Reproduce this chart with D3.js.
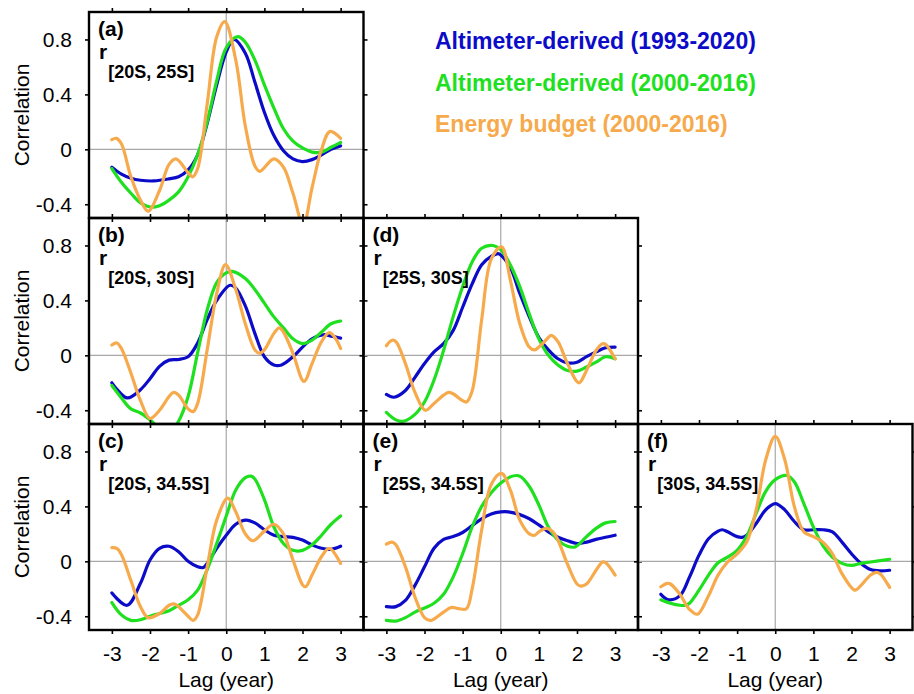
<!DOCTYPE html>
<html>
<head>
<meta charset="utf-8">
<script src="https://cdn.jsdelivr.net/npm/d3@7"></script>
<style>
  body { margin: 0; background: #fff; }
  svg { font-family: "Liberation Sans", Arial, Helvetica, sans-serif; }
</style>
</head>
<body>
<div id="chart"></div>
<script>
// series labels and colours
var seriesNames = ["Altimeter-derived (1993-2020)", "Altimeter-derived (2000-2016)", "Energy budget (2000-2016)"];
var seriesColors = ["#0c0cc8", "#1fe01f", "#f6aa4c"];

var xTicks = [-3, -2, -1, 0, 1, 2, 3];
var yTicks = [-0.4, 0, 0.4, 0.8];

// panels: id, row, col, latitude band
var panelIds = ["a", "b", "c", "d", "e", "f"];
var panelRows = [0, 1, 2, 1, 2, 2];
var panelCols = [0, 0, 0, 1, 1, 2];
var panelBands = ["[20S, 25S]", "[20S, 30S]", "[20S, 34.5S]", "[25S, 30S]", "[25S, 34.5S]", "[30S, 34.5S]"];

// [lag (year), correlation]
var blueA = [[-3,-0.13],[-2.75,-0.18],[-2.5,-0.21],[-2.25,-0.225],[-1.9,-0.23],[-1.5,-0.215],[-1.25,-0.2],[-1,-0.15],[-0.75,-0.04],[-0.5,0.19],[-0.25,0.47],[0,0.71],[0.2,0.8],[0.5,0.7],[0.75,0.49],[1,0.27],[1.25,0.1],[1.5,-0.01],[1.75,-0.07],[2,-0.09],[2.25,-0.075],[2.5,-0.04],[2.75,0],[3,0.025]];
var greenA = [[-3,-0.14],[-2.75,-0.24],[-2.5,-0.32],[-2.25,-0.39],[-2,-0.42],[-1.75,-0.41],[-1.5,-0.37],[-1.25,-0.31],[-1,-0.2],[-0.75,-0.04],[-0.5,0.2],[-0.25,0.5],[0,0.74],[0.3,0.82],[0.5,0.78],[0.75,0.65],[1,0.47],[1.25,0.3],[1.5,0.15],[1.75,0.06],[2,0.01],[2.25,-0.02],[2.5,-0.02],[2.75,0.015],[3,0.05]];
var orangeA = [[-3,0.07],[-2.88,0.08],[-2.75,0.04],[-2.5,-0.2],[-2.25,-0.37],[-2.05,-0.45],[-1.75,-0.3],[-1.5,-0.11],[-1.32,-0.07],[-1,-0.17],[-0.88,-0.2],[-0.75,-0.14],[-0.5,0.33],[-0.25,0.82],[-0.04,0.93],[0.25,0.65],[0.5,0.17],[0.75,-0.12],[0.88,-0.16],[1.25,-0.07],[1.5,-0.13],[1.75,-0.32],[2.02,-0.55],[2.25,-0.28],[2.5,0],[2.72,0.13],[3,0.08]];

var blueB = [[-3,-0.2],[-2.6,-0.31],[-2.25,-0.25],[-2,-0.17],[-1.75,-0.08],[-1.5,-0.035],[-1.25,-0.03],[-1,-0.01],[-0.75,0.09],[-0.5,0.26],[-0.25,0.4],[0.1,0.51],[0.25,0.49],[0.5,0.36],[0.75,0.16],[1,-0.01],[1.25,-0.07],[1.45,-0.07],[1.75,-0.01],[2,0.06],[2.25,0.12],[2.55,0.15],[2.75,0.14],[3,0.125]];
var greenB = [[-3,-0.22],[-2.75,-0.31],[-2.5,-0.39],[-2.25,-0.42],[-2,-0.47],[-1.75,-0.53],[-1.5,-0.57],[-1.25,-0.48],[-1,-0.3],[-0.75,0.02],[-0.5,0.33],[-0.25,0.53],[0,0.6],[0.18,0.61],[0.5,0.56],[0.75,0.48],[1,0.38],[1.25,0.28],[1.5,0.2],[1.75,0.12],[2,0.085],[2.25,0.11],[2.5,0.17],[2.75,0.23],[3,0.25]];
var orangeB = [[-3,0.075],[-2.87,0.09],[-2.75,0.05],[-2.5,-0.13],[-2.25,-0.33],[-2,-0.46],[-1.75,-0.4],[-1.5,-0.3],[-1.38,-0.27],[-1.25,-0.29],[-1,-0.39],[-0.87,-0.41],[-0.75,-0.35],[-0.5,0.04],[-0.25,0.45],[-0.02,0.66],[0.25,0.48],[0.5,0.23],[0.75,0.04],[0.87,0.015],[1,0.04],[1.25,0.16],[1.39,0.2],[1.5,0.17],[1.75,0.015],[2.04,-0.19],[2.25,-0.06],[2.5,0.1],[2.7,0.165],[2.85,0.13],[3,0.05]];

var blueC = [[-3,-0.23],[-2.6,-0.32],[-2.25,-0.16],[-2,0.01],[-1.75,0.095],[-1.5,0.11],[-1.25,0.07],[-1,0],[-0.75,-0.04],[-0.6,-0.045],[-0.5,-0.015],[-0.25,0.095],[0,0.19],[0.25,0.27],[0.52,0.3],[0.75,0.28],[1,0.23],[1.25,0.19],[1.5,0.18],[1.75,0.175],[2,0.155],[2.25,0.12],[2.5,0.095],[2.75,0.088],[3,0.11]];
var greenC = [[-3,-0.3],[-2.75,-0.39],[-2.5,-0.43],[-2.25,-0.425],[-2,-0.4],[-1.75,-0.38],[-1.5,-0.36],[-1.25,-0.32],[-1,-0.28],[-0.75,-0.21],[-0.5,-0.06],[-0.25,0.13],[0,0.33],[0.25,0.52],[0.5,0.61],[0.65,0.62],[0.75,0.6],[1,0.45],[1.25,0.25],[1.5,0.13],[1.75,0.08],[2,0.08],[2.25,0.12],[2.5,0.19],[2.75,0.27],[3,0.33]];
var orangeC = [[-3,0.1],[-2.87,0.095],[-2.75,0.05],[-2.5,-0.14],[-2.25,-0.33],[-2.05,-0.41],[-1.75,-0.38],[-1.5,-0.32],[-1.37,-0.31],[-1.25,-0.33],[-1,-0.4],[-0.87,-0.43],[-0.75,-0.39],[-0.5,-0.04],[-0.25,0.3],[0.04,0.46],[0.25,0.36],[0.5,0.2],[0.7,0.15],[1,0.22],[1.25,0.27],[1.5,0.2],[1.75,0.01],[2,-0.17],[2.08,-0.185],[2.25,-0.1],[2.5,0.035],[2.7,0.095],[3,-0.015]];

var blueD = [[-3,-0.285],[-2.8,-0.305],[-2.5,-0.256],[-2.25,-0.16],[-2,-0.06],[-1.75,0.025],[-1.5,0.085],[-1.25,0.18],[-1,0.35],[-0.75,0.52],[-0.5,0.66],[-0.25,0.72],[-0.07,0.74],[0,0.73],[0.25,0.64],[0.5,0.45],[0.75,0.28],[1,0.13],[1.25,0.04],[1.5,-0.025],[1.75,-0.055],[2,-0.05],[2.25,-0.01],[2.5,0.025],[2.75,0.055],[3,0.06]];
var greenD = [[-3,-0.415],[-2.75,-0.47],[-2.55,-0.48],[-2.25,-0.43],[-2,-0.34],[-1.75,-0.18],[-1.5,0.035],[-1.25,0.28],[-1,0.5],[-0.75,0.68],[-0.5,0.78],[-0.2,0.8],[0,0.77],[0.25,0.66],[0.5,0.5],[0.75,0.3],[1,0.12],[1.25,0],[1.5,-0.07],[1.75,-0.11],[2,-0.115],[2.25,-0.085],[2.5,-0.05],[2.75,-0.01],[3,-0.025]];
var orangeD = [[-3,0.07],[-2.85,0.11],[-2.75,0.1],[-2.5,-0.06],[-2.25,-0.27],[-1.98,-0.4],[-1.75,-0.35],[-1.5,-0.29],[-1.37,-0.27],[-1.25,-0.28],[-1,-0.33],[-0.9,-0.34],[-0.75,-0.26],[-0.5,0.26],[-0.25,0.7],[0.02,0.79],[0.25,0.55],[0.5,0.23],[0.75,0.06],[0.89,0.04],[1,0.06],[1.25,0.13],[1.32,0.145],[1.5,0.1],[1.75,-0.06],[2.05,-0.2],[2.25,-0.11],[2.5,0.035],[2.67,0.085],[2.75,0.08],[3,-0.025]];

var blueE = [[-3,-0.33],[-2.75,-0.33],[-2.5,-0.285],[-2.25,-0.175],[-2,-0.04],[-1.75,0.095],[-1.5,0.16],[-1.25,0.18],[-1,0.21],[-0.75,0.26],[-0.5,0.31],[-0.25,0.345],[0,0.36],[0.2,0.36],[0.5,0.34],[0.75,0.31],[1,0.265],[1.25,0.215],[1.5,0.175],[1.75,0.15],[2,0.13],[2.25,0.14],[2.5,0.16],[2.75,0.175],[3,0.19]];
var greenE = [[-3,-0.43],[-2.75,-0.435],[-2.5,-0.41],[-2.25,-0.37],[-2,-0.34],[-1.75,-0.305],[-1.5,-0.24],[-1.25,-0.115],[-1,0.055],[-0.75,0.25],[-0.5,0.4],[-0.25,0.5],[0,0.57],[0.25,0.615],[0.41,0.625],[0.5,0.62],[0.75,0.545],[1,0.41],[1.25,0.25],[1.5,0.155],[1.75,0.11],[1.95,0.105],[2.25,0.18],[2.5,0.24],[2.75,0.28],[3,0.29]];
var orangeE = [[-3,0.125],[-2.85,0.14],[-2.75,0.12],[-2.5,-0.04],[-2.25,-0.26],[-2,-0.41],[-1.85,-0.43],[-1.75,-0.42],[-1.5,-0.37],[-1.29,-0.335],[-1.1,-0.345],[-0.9,-0.345],[-0.75,-0.2],[-0.5,0.23],[-0.25,0.56],[0.02,0.64],[0.25,0.52],[0.5,0.3],[0.75,0.2],[0.89,0.19],[1,0.215],[1.19,0.24],[1.37,0.215],[1.5,0.155],[1.75,-0.02],[2,-0.165],[2.1,-0.18],[2.25,-0.165],[2.5,-0.065],[2.67,-0.005],[2.75,-0.01],[3,-0.1]];

var blueF = [[-3,-0.24],[-2.8,-0.28],[-2.5,-0.25],[-2.25,-0.115],[-2,0.045],[-1.75,0.165],[-1.5,0.22],[-1.39,0.23],[-1.25,0.215],[-1,0.18],[-0.87,0.175],[-0.75,0.19],[-0.5,0.275],[-0.25,0.375],[0,0.42],[0.25,0.375],[0.5,0.29],[0.75,0.23],[1,0.23],[1.25,0.23],[1.5,0.215],[1.75,0.14],[2,0.055],[2.25,-0.015],[2.5,-0.06],[2.75,-0.07],[3,-0.065]];
var greenF = [[-3,-0.28],[-2.75,-0.305],[-2.5,-0.32],[-2.35,-0.32],[-2.25,-0.305],[-2,-0.21],[-1.75,-0.1],[-1.5,-0.01],[-1.25,0.03],[-1,0.08],[-0.75,0.18],[-0.5,0.35],[-0.25,0.51],[0,0.595],[0.3,0.625],[0.5,0.58],[0.75,0.42],[1,0.25],[1.25,0.115],[1.5,0.03],[1.75,-0.015],[2,-0.03],[2.25,-0.015],[2.5,-0.005],[2.75,0.005],[3,0.015]];
var orangeF = [[-3,-0.185],[-2.83,-0.16],[-2.75,-0.165],[-2.5,-0.24],[-2.25,-0.35],[-2.04,-0.385],[-1.75,-0.25],[-1.5,-0.1],[-1.25,-0.005],[-1,0.055],[-0.75,0.14],[-0.5,0.375],[-0.25,0.74],[0,0.91],[0.25,0.74],[0.5,0.4],[0.75,0.215],[1,0.18],[1.25,0.14],[1.5,0.055],[1.75,-0.09],[2.09,-0.21],[2.25,-0.175],[2.5,-0.1],[2.65,-0.08],[2.75,-0.09],[3,-0.19]];

var panelSeries = [
  [blueA, greenA, orangeA],
  [blueB, greenB, orangeB],
  [blueC, greenC, orangeC],
  [blueD, greenD, orangeD],
  [blueE, greenE, orangeE],
  [blueF, greenF, orangeF]
];

var width = 914, height = 694;
var left0 = 89, top0 = 12;
var pw = 274.5, ph = 206;

var svg = d3.select('#chart').append('svg')
  .attr('width', width)
  .attr('height', height);

var xScale = d3.scaleLinear().domain([-3.6, 3.6]).range([0, pw]);
var yScale = d3.scaleLinear().domain([-0.5, 1.0]).range([ph, 0]);

var line = d3.line()
  .x(function (d) { return xScale(d[0]); })
  .y(function (d) { return yScale(d[1]); })
  .curve(d3.curveCatmullRom.alpha(0.5));

var defs = svg.append('defs');
defs.append('clipPath').attr('id', 'clip')
  .append('rect').attr('width', pw).attr('height', ph);

// plain hyphen minus, like the original figure
var plainFmt = function (d) { return String(d); };
var noFmt = function () { return ''; };

function styleAxis(sel, fontSize) {
  sel.select('.domain').remove();
  sel.selectAll('.tick line').attr('stroke', '#000').attr('stroke-width', 1.6);
  sel.selectAll('.tick text').attr('font-size', fontSize).attr('fill', '#000')
    .attr('font-family', '"Liberation Sans", Arial, sans-serif');
}

panelIds.forEach(function (id, i) {
  var row = panelRows[i], col = panelCols[i];
  var g = svg.append('g')
    .attr('transform', 'translate(' + (left0 + col * pw) + ',' + (top0 + row * ph) + ')');

  // axes with outward ticks on all four sides
  var showY = col === 0, showX = row === 2;
  g.append('g').call(d3.axisLeft(yScale).tickValues(yTicks).tickSize(4).tickPadding(13)
      .tickFormat(showY ? plainFmt : noFmt))
    .call(styleAxis, 21);
  g.append('g').attr('transform', 'translate(' + pw + ',0)')
    .call(d3.axisRight(yScale).tickValues(yTicks).tickSize(4).tickFormat(noFmt))
    .call(styleAxis, 21);
  g.append('g').attr('transform', 'translate(0,' + ph + ')')
    .call(d3.axisBottom(xScale).tickValues(xTicks).tickSize(4).tickPadding(12)
      .tickFormat(showX ? plainFmt : noFmt))
    .call(styleAxis, 21);
  g.append('g')
    .call(d3.axisTop(xScale).tickValues(xTicks).tickSize(4).tickFormat(noFmt))
    .call(styleAxis, 21);

  var plot = g.append('g').attr('clip-path', 'url(#clip)');
  plot.append('line')
    .attr('x1', 0).attr('x2', pw)
    .attr('y1', yScale(0)).attr('y2', yScale(0))
    .attr('stroke', '#a8a8a8').attr('stroke-width', 1.2);
  plot.append('line')
    .attr('x1', xScale(0)).attr('x2', xScale(0))
    .attr('y1', 0).attr('y2', ph)
    .attr('stroke', '#a8a8a8').attr('stroke-width', 1.2);

  plot.selectAll('.series')
    .data(panelSeries[i])
    .enter().append('path')
    .attr('class', 'series')
    .attr('d', line)
    .attr('fill', 'none')
    .attr('stroke', function (d, k) { return seriesColors[k]; })
    .attr('stroke-width', 3.2)
    .attr('stroke-linecap', 'round')
    .attr('stroke-linejoin', 'round');

  g.append('rect')
    .attr('width', pw).attr('height', ph)
    .attr('fill', 'none').attr('stroke', '#000').attr('stroke-width', 2.4);

  g.append('text')
    .attr('x', 9).attr('y', 24)
    .attr('font-size', 21).attr('font-weight', 'bold')
    .text('(' + id + ')');

  var r = g.append('text')
    .attr('x', 10).attr('y', 47)
    .attr('font-size', 21).attr('font-weight', 'bold');
  r.append('tspan').text('r');
  r.append('tspan').attr('dy', 19).attr('dx', 1).attr('font-size', 18).text(panelBands[i]);

  if (showY) {
    g.append('text')
      .attr('transform', 'translate(-60,' + (ph / 2) + ') rotate(-90)')
      .attr('text-anchor', 'middle')
      .attr('font-size', 21)
      .text('Correlation');
  }
  if (showX) {
    g.append('text')
      .attr('x', xScale(0)).attr('y', ph + 57)
      .attr('text-anchor', 'middle')
      .attr('font-size', 21)
      .text('Lag (year)');
  }
});

// legend
var legend = svg.append('g').attr('transform', 'translate(435,49)');
legend.selectAll('text')
  .data(seriesNames)
  .enter().append('text')
  .attr('x', 0)
  .attr('y', function (d, k) { return k * 41.5; })
  .attr('font-size', 23)
  .attr('font-weight', 'bold')
  .attr('fill', function (d, k) { return seriesColors[k]; })
  .text(function (d) { return d; });
</script>
</body>
</html>
